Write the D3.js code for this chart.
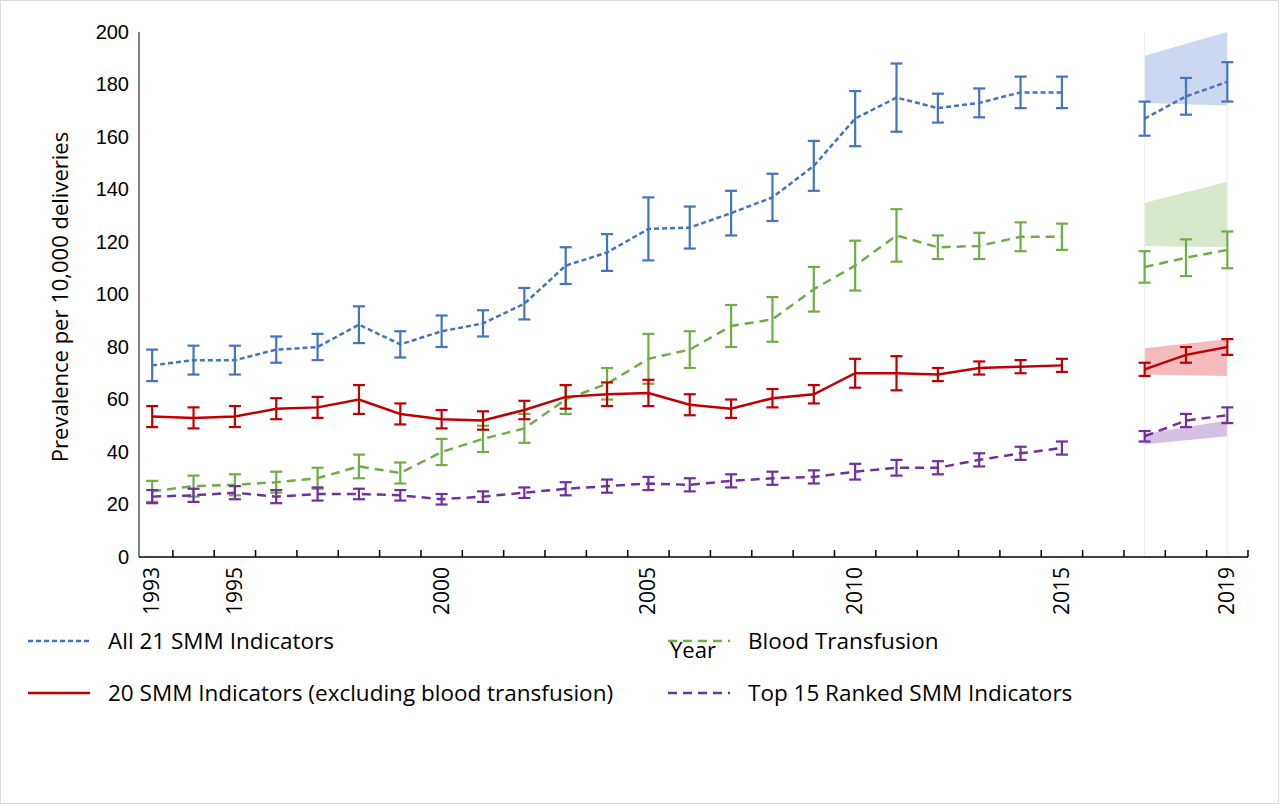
<!DOCTYPE html><html><head><meta charset="utf-8"><script src="https://cdn.jsdelivr.net/npm/d3@7"></script>
<style>body{margin:0;background:#fff}svg{font-family:"Open Sans",sans-serif}</style></head><body><svg id="c" width="1280" height="805"></svg><script>
const years=[1993,1994,1995,1996,1997,1998,1999,2000,2001,2002,2003,2004,2005,2006,2007,2008,2009,2010,2011,2012,2013,2014,2015,2017,2018,2019];
const cats=[1993,1994,1995,1996,1997,1998,1999,2000,2001,2002,2003,2004,2005,2006,2007,2008,2009,2010,2011,2012,2013,2014,2015,2016,2017,2018,2019];
const tickLabels=[1993,1995,2000,2005,2010,2015,2019];
const yTicks=[0,20,40,60,80,100,120,140,160,180,200];
const allVals=[73,75,75,79,80,88.5,81,86,89,96.5,111,116,125,125.5,131,137,149,167,175,171,173,177,177,167,175.5,181];
const allErr=[6,5.5,5.5,5,5,7,5,6,5,6,7,7,12,8,8.5,9,9.5,10.5,13,5.5,5.5,6,6,6.5,7,7.5];
const bloodVals=[25,27,27.5,28.5,30,34.5,32,40,45,49,60,66,75.5,79,88,90.5,102,111,122.5,118,118.5,122,122,110.5,114,117];
const bloodErr=[4,4,4,4,4,4.5,4,5,5,5.5,5.5,6,9.5,7,8,8.5,8.5,9.5,10,4.5,5,5.5,5,6,7,7];
const exclVals=[53.5,53,53.5,56.5,57,60,54.5,52.5,52,56,61,62,62.5,58,56.5,60.5,62,70,70,69.5,72,72.5,73,71.5,77,80];
const exclErr=[4,4,4,4,4,5.5,4,3.5,3.5,3.5,4.5,4.5,5,4,3.5,3.5,3.5,5.5,6.5,2.5,2.5,2.5,2.5,2.5,3,3];
const topVals=[23,23.5,24.5,23,24,24,23.5,22,23,24.5,26,27,28,27.5,29,30,30.5,32.5,34,34,37,39.5,41.5,46,52,54];
const topErr=[2.5,2.5,2.5,2.5,2.5,2,2,2,2,2,2.5,2.5,2.5,2.5,2.5,2.5,2.5,3,3,2.5,2.5,2.5,2.5,2,2.5,3];
const bandYears=[2017,2019];
const allBandHi=[191,200],allBandLo=[173,172];
const bloodBandHi=[135,143],bloodBandLo=[118.5,118];
const exclBandHi=[79.5,83],exclBandLo=[69.5,69];
const topBandHi=[47,52],topBandLo=[43,46];

const svg=d3.select("#c");
svg.append("rect").attr("x",0.5).attr("y",0.5).attr("width",1278).attr("height",803).attr("fill","#fff").attr("stroke","#d9d9d9");
const x=d3.scaleBand().domain(cats).range([131.5,1248]);
const cx=v=>x(v)+x.bandwidth()/2;
const y=d3.scaleLinear().domain([0,200]).range([557,32]);
const series=[
 {v:allVals,e:allErr,c:"#4472c4",d:"5,3",hi:allBandHi,lo:allBandLo,bc:"rgba(68,114,196,0.28)"},
 {v:bloodVals,e:bloodErr,c:"#70ad47",d:"9,6",hi:bloodBandHi,lo:bloodBandLo,bc:"rgba(112,173,71,0.28)"},
 {v:exclVals,e:exclErr,c:"#c00000",d:null,hi:exclBandHi,lo:exclBandLo,bc:"rgba(220,60,60,0.35)"},
 {v:topVals,e:topErr,c:"#7030a0",d:"9,6",hi:topBandHi,lo:topBandLo,bc:"rgba(112,48,160,0.3)"}];
series.forEach(s=>{
  const pts=bandYears.map((yr,i)=>[cx(yr),y(s.hi[i])]).concat(bandYears.map((yr,i)=>[cx(yr),y(s.lo[i])]).reverse());
  svg.append("path").attr("d","M"+pts.join("L")+"Z").attr("fill",s.bc);
});
bandYears.forEach(yr=>svg.append("line").attr("x1",cx(yr)).attr("x2",cx(yr)).attr("y1",y(200)).attr("y2",y(0)).attr("stroke","#eee"));
const ya=svg.append("g").attr("transform","translate(137,0)").call(d3.axisLeft(y).tickValues(yTicks).tickSize(0).tickPadding(8));
ya.select(".domain").remove();ya.selectAll("text").attr("font-size",20).attr("fill","#000");
svg.append("line").attr("x1",139).attr("x2",139).attr("y1",32).attr("y2",557).attr("stroke","#000");
svg.append("line").attr("x1",139).attr("x2",1248).attr("y1",557).attr("y2",557).attr("stroke","#000").attr("stroke-width",1.5);
cats.forEach(c=>{const xx=x(c)+x.bandwidth();svg.append("line").attr("x1",xx).attr("x2",xx).attr("y1",557).attr("y2",550).attr("stroke","#000").attr("stroke-width",1.5);});
tickLabels.forEach(t=>svg.append("text").attr("transform",`translate(${cx(t)+7},567) rotate(-90)`).attr("text-anchor","end").attr("font-size",21).text(t));
svg.append("text").attr("transform","translate(68,297) rotate(-90)").attr("text-anchor","middle").attr("font-size",22).text("Prevalence per 10,000 deliveries");
series.forEach(s=>{
  [[0,23],[23,26]].forEach(([a,b])=>{
    const l=d3.line().x((d,i)=>cx(years[a+i])).y(d=>y(d));
    svg.append("path").attr("d",l(s.v.slice(a,b))).attr("fill","none").attr("stroke",s.c).attr("stroke-width",2.5).attr("stroke-dasharray",s.d);
  });
  s.v.forEach((v,i)=>{
    const xx=cx(years[i]),g=svg.append("g").attr("stroke",s.c).attr("stroke-width",2.2);
    g.append("line").attr("x1",xx).attr("x2",xx).attr("y1",y(v-s.e[i])).attr("y2",y(v+s.e[i]));
    [v-s.e[i],v+s.e[i]].forEach(w=>g.append("line").attr("x1",xx-6).attr("x2",xx+6).attr("y1",y(w)).attr("y2",y(w)));
  });
});
const leg=[["All 21 SMM Indicators",0,28,641],["Blood Transfusion",1,668,641],["20 SMM Indicators (excluding blood transfusion)",2,28,693],["Top 15 Ranked SMM Indicators",3,668,693]];
leg.forEach(([t,i,lx,ly])=>{const s=series[i];
  svg.append("line").attr("x1",lx).attr("x2",lx+62).attr("y1",ly).attr("y2",ly).attr("stroke",s.c).attr("stroke-width",2.5).attr("stroke-dasharray",s.d);
  svg.append("text").attr("x",lx+80).attr("y",ly+8).attr("font-size",22.5).attr("textLength",null).text(t);});
svg.append("text").attr("x",693).attr("y",658).attr("text-anchor","middle").attr("font-size",22).text("Year");
</script></body></html>
